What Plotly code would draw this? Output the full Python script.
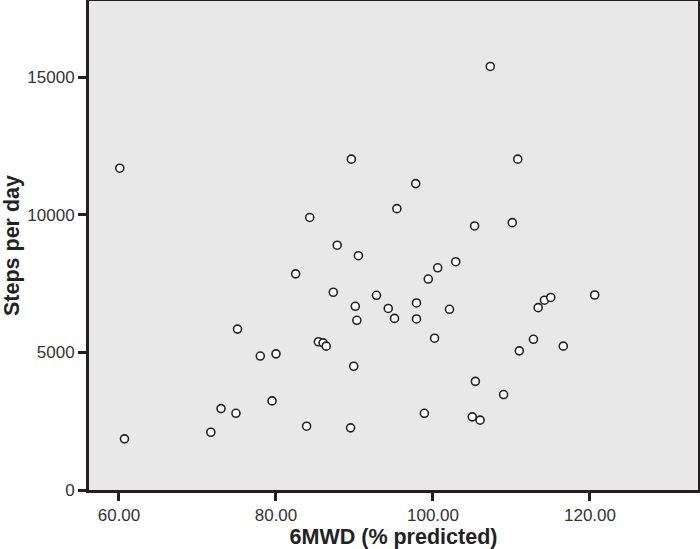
import plotly.graph_objects as go

mwd_pct = [60.1, 60.7, 71.7, 73.0, 74.9, 75.1, 78.0, 80.0, 79.5, 82.5,
           83.9, 84.3, 85.4, 86.0, 86.4, 87.3, 87.8, 89.6, 89.5, 89.9,
           90.1, 90.3, 90.5, 92.8, 94.3, 95.1, 95.4, 97.8, 97.9, 97.9,
           98.9, 99.4, 100.2, 100.6, 102.1, 102.9, 105.0, 105.3, 105.4, 106.0,
           107.3, 109.0, 110.1, 110.8, 111.0, 112.8, 113.4, 114.2, 115.0, 116.6,
           120.6]
steps = [11700, 1860, 2100, 2960, 2790, 5850, 4870, 4950, 3240, 7860,
         2320, 9910, 5390, 5350, 5230, 7190, 8900, 12030, 2260, 4500,
         6680, 6170, 8520, 7080, 6600, 6240, 10230, 11140, 6800, 6220,
         2790, 7670, 5520, 8080, 6570, 8300, 2660, 9600, 3950, 2540,
         15400, 3470, 9720, 12030, 5060, 5480, 6630, 6900, 7000, 5230,
         7090]

x_ticks = [60, 80, 100, 120]
x_tick_text = ["60.00", "80.00", "100.00", "120.00"]
y_ticks = [0, 5000, 10000, 15000]
y_tick_text = ["0", "5000", "10000", "15000"]

fig = go.Figure(go.Scatter(
    x=mwd_pct, y=steps, mode="markers",
    marker=dict(symbol="circle", size=8, color="white",
                line=dict(color="#222222", width=1.6)),
    hoverinfo="x+y",
))

axis_common = dict(
    showgrid=False, zeroline=False, showline=True, mirror=True,
    linecolor="#231f20", linewidth=3, automargin=False,
    ticks="outside", ticklen=8, tickwidth=3, tickcolor="#231f20",
    tickfont=dict(family="Liberation Sans, Arial, sans-serif", size=17, color="#333333"),
    title_font=dict(family="Liberation Sans, Arial, sans-serif", size=21.5, color="#222222"),
)

fig.update_layout(
    width=700, height=549,
    margin=dict(l=89, r=2, t=1, b=59),
    paper_bgcolor="white",
    plot_bgcolor="#e8e8e8",
    showlegend=False,
    xaxis=dict(axis_common, range=[56.18, 133.76], tickvals=x_ticks, ticktext=x_tick_text,
               title=dict(text="<b>6MWD (% predicted)</b>")),
    yaxis=dict(axis_common, range=[0, 17780], tickvals=y_ticks, ticktext=y_tick_text,
               title=dict(text="<b>Steps per day</b>")),
)

fig.write_html("out.html", config={"displayModeBar": False},
               post_script="document.body.style.margin='0';document.body.style.overflow='hidden';")
